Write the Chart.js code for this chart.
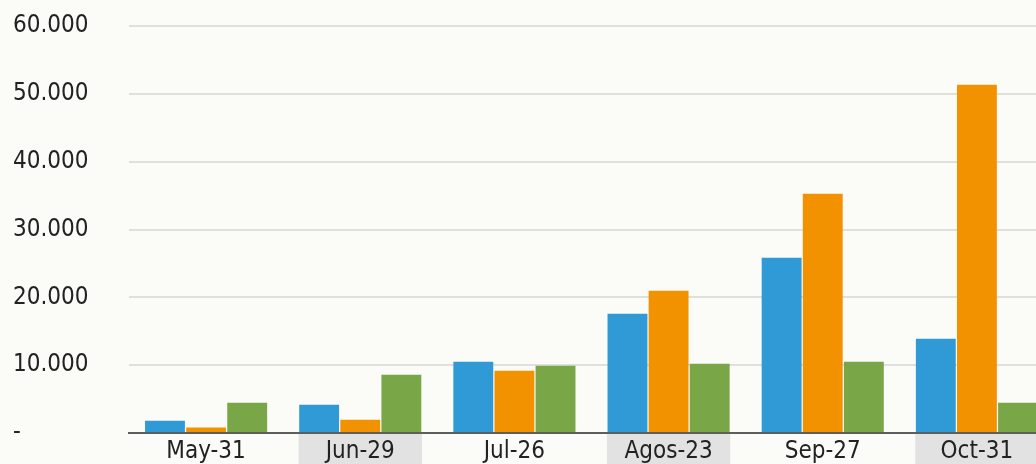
<!DOCTYPE html>
<html>
<head>
<meta charset="utf-8">
<script src="https://cdn.jsdelivr.net/npm/chart.js@4/dist/chart.umd.min.js"></script>
<style>
  html, body { margin: 0; padding: 0; background: #fbfbf7; overflow: hidden; width: 1036px; height: 464px; }
  #wrap { position: absolute; left: 0; top: 0; width: 1054px; height: 464px; }
</style>
</head>
<body>
<div id="wrap"><canvas id="c"></canvas></div>
<script>
const categories = ['May-31', 'Jun-29', 'Jul-26', 'Agos-23', 'Sep-27', 'Oct-31'];
const seriesBlue   = [1800, 4170, 10510, 17580, 25840, 13900];
const seriesOrange = [800, 1960, 9180, 20970, 35270, 51330];
const seriesGreen  = [4450, 8590, 9920, 10210, 10510, 4470];
const yTicks = [0, 10000, 20000, 30000, 40000, 50000, 60000];

const FONT = '"DejaVu Sans Condensed", "DejaVu Sans", sans-serif';

const bandPlugin = {
  id: 'bands',
  beforeDraw(chart) {
    const ctx = chart.ctx;
    const x = chart.scales.x;
    const area = chart.chartArea;
    const catW = (x.right - x.left) / categories.length;
    ctx.save();
    ctx.fillStyle = '#e2e2e2';
    categories.forEach((c, i) => {
      if (i % 2 === 1) {
        const cx = x.getPixelForValue(i);
        const w = catW * 0.8;
        ctx.fillRect(cx - w / 2, area.bottom + 1, w, chart.height - area.bottom);
      }
    });
    ctx.restore();
  }
};

new Chart(document.getElementById('c'), {
  type: 'bar',
  data: {
    labels: categories,
    datasets: [
      { data: seriesBlue, backgroundColor: '#2f9ad6' },
      { data: seriesOrange, backgroundColor: '#f29200' },
      { data: seriesGreen, backgroundColor: '#79a647' }
    ]
  },
  options: {
    responsive: true,
    maintainAspectRatio: false,
    animation: false,
    events: [],
    layout: { padding: { left: 13, top: 26, right: 0, bottom: 0 } },
    datasets: { bar: { categoryPercentage: 0.8, barPercentage: 0.97 } },
    plugins: { legend: { display: false }, tooltip: { enabled: false } },
    scales: {
      x: {
        afterFit(s) { s.height = 31; },
        grid: { display: false, drawTicks: false },
        border: { display: true, color: '#5e5e5e', width: 2 },
        ticks: { color: '#222', font: { family: FONT, size: 24 }, padding: 4, maxRotation: 0, autoSkip: false }
      },
      y: {
        min: 0, max: 60000,
        afterFit(s) { s.width = 116; },
        afterBuildTicks(axis) { axis.ticks = yTicks.map(v => ({ value: v })); },
        grid: {
          drawTicks: false,
          lineWidth: 2,
          color: c => (c.tick && c.tick.value === 0) ? '#5e5e5e' : '#dfdfdb'
        },
        border: { display: false },
        ticks: {
          color: '#222',
          font: { family: FONT, size: 24 },
          crossAlign: 'far',
          padding: 0,
          callback: v => v === 0 ? '-' : (v / 1000) + '.000'
        }
      }
    }
  },
  plugins: [bandPlugin]
});
</script>
</body>
</html>
